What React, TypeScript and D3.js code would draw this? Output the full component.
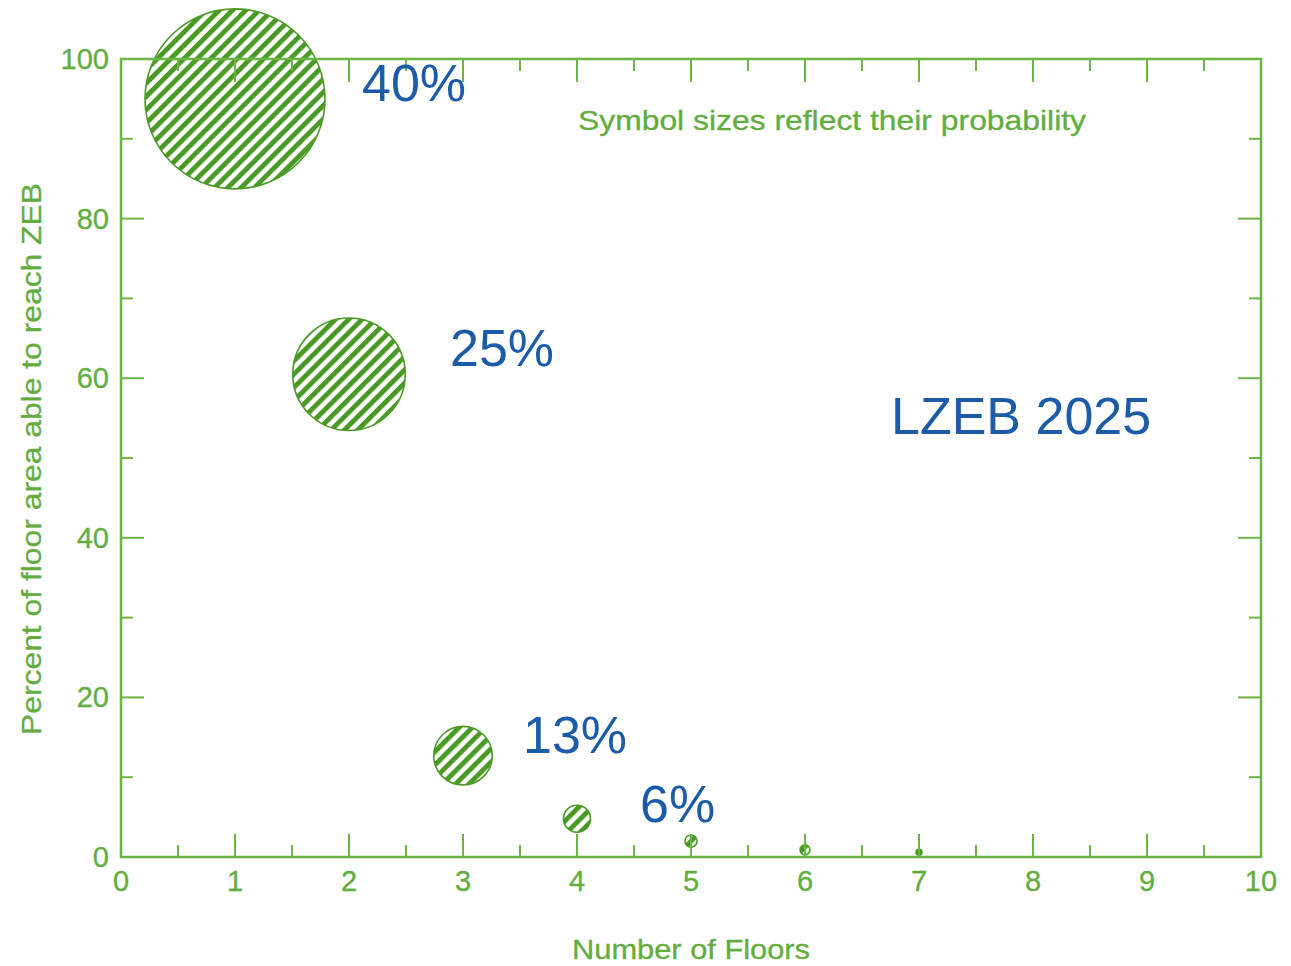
import React from "react";
import * as d3 from "d3";

const floors = [1, 2, 3, 4, 5, 6, 7];
const percentArea = [95, 60.5, 12.7, 4.8, 2.0, 0.9, 0.6];
const probability = [40, 25, 13, 6, 2.7, 2.2, 1.3];
const labelFloors = [1, 2, 3, 4];
const labelTexts = ["40%", "25%", "13%", "6%"];
const xTicks = [0, 1, 2, 3, 4, 5, 6, 7, 8, 9, 10];
const yTicks = [0, 20, 40, 60, 80, 100];

const W = 1291;
const H = 966;
const L = 121, R = 1261, T = 59, B = 857;
const GREEN_AX = "#6cb444";
const GREEN_TXT = "#62ad3e";
const GREEN_HATCH = "#4b9a25";
const BLUE = "#1b5ba8";
const FONT = "'Liberation Sans', Arial, sans-serif";

export default function App() {
  const x = d3.scaleLinear().domain([0, 10]).range([L, R]);
  const y = d3.scaleLinear().domain([0, 100]).range([B, T]);
  const r = d3.scaleLinear().domain([0, 40]).range([0, 90]);

  const xMajor = xTicks;
  const xMinor = d3.range(0.5, 10, 1);
  const yMajor = yTicks;
  const yMinor = d3.range(10, 100, 20);
  const MAJ = 23, MIN = 12;

  const labelDx = [127, 101, 60, 63];
  const labelDy = [2, -8, -3, 3];

  return (
    <svg width={W} height={H} style={{ position: "absolute", left: 0, top: 0, display: "block", background: "#fff" }}>
      <defs>
        <pattern id="hatch" patternUnits="userSpaceOnUse" width={9.4} height={9.4} patternTransform="rotate(45)">
          <rect x={0} y={0} width={4.9} height={9.4} fill={GREEN_HATCH} />
        </pattern>
      </defs>
      <rect x={0} y={0} width={W} height={H} fill="#fff" />

      {floors.map((f, i) => (
        <circle key={f} cx={x(f)} cy={y(percentArea[i])} r={r(probability[i])}
          fill="url(#hatch)" stroke={GREEN_HATCH} strokeWidth={1.6} />
      ))}

      <rect x={L} y={T} width={R - L} height={B - T} fill="none" stroke={GREEN_AX} strokeWidth={2.5} />

      <g stroke={GREEN_AX} strokeWidth={2}>
        {xMajor.map((v) => (
          <g key={"xm" + v}>
            <line x1={x(v)} x2={x(v)} y1={B} y2={B - MAJ} />
            <line x1={x(v)} x2={x(v)} y1={T} y2={T + MAJ} />
          </g>
        ))}
        {xMinor.map((v) => (
          <g key={"xn" + v}>
            <line x1={x(v)} x2={x(v)} y1={B} y2={B - MIN} />
            <line x1={x(v)} x2={x(v)} y1={T} y2={T + MIN} />
          </g>
        ))}
        {yMajor.map((v) => (
          <g key={"ym" + v}>
            <line x1={L} x2={L + MAJ} y1={y(v)} y2={y(v)} />
            <line x1={R} x2={R - MAJ} y1={y(v)} y2={y(v)} />
          </g>
        ))}
        {yMinor.map((v) => (
          <g key={"yn" + v}>
            <line x1={L} x2={L + MIN} y1={y(v)} y2={y(v)} />
            <line x1={R} x2={R - MIN} y1={y(v)} y2={y(v)} />
          </g>
        ))}
      </g>

      <g fill={GREEN_TXT} fontFamily={FONT} fontSize={29} stroke={GREEN_TXT} strokeWidth={0.3}>
        {xTicks.map((v) => (
          <text key={"xl" + v} x={x(v)} y={891} textAnchor="middle">{v}</text>
        ))}
        {yTicks.map((v) => (
          <text key={"yl" + v} x={109} y={y(v) + 10} textAnchor="end">{v}</text>
        ))}
      </g>

      <text x={x(5)} y={959} textAnchor="middle" fill={GREEN_TXT} stroke={GREEN_TXT} strokeWidth={0.3} fontFamily={FONT} fontSize={28}
        textLength={238} lengthAdjust="spacingAndGlyphs">Number of Floors</text>
      <text transform={`translate(41,459) rotate(-90)`} textAnchor="middle" fill={GREEN_TXT} stroke={GREEN_TXT} strokeWidth={0.3} fontFamily={FONT}
        fontSize={28} textLength={552} lengthAdjust="spacingAndGlyphs">Percent of floor area able to reach ZEB</text>

      <text x={578} y={130} fill={GREEN_TXT} stroke={GREEN_TXT} strokeWidth={0.3} fontFamily={FONT} fontSize={28}
        textLength={508} lengthAdjust="spacingAndGlyphs">Symbol sizes reflect their probability</text>

      <g fill={BLUE} fontFamily={FONT} fontSize={52}>
        {labelFloors.map((f, i) => (
          <text key={"pl" + f} x={x(f) + labelDx[i]} y={y(percentArea[i]) + labelDy[i]}>{labelTexts[i]}</text>
        ))}
      </g>
      <text x={891} y={434} fill={BLUE} fontFamily={FONT} fontSize={52}>LZEB 2025</text>
    </svg>
  );
}
